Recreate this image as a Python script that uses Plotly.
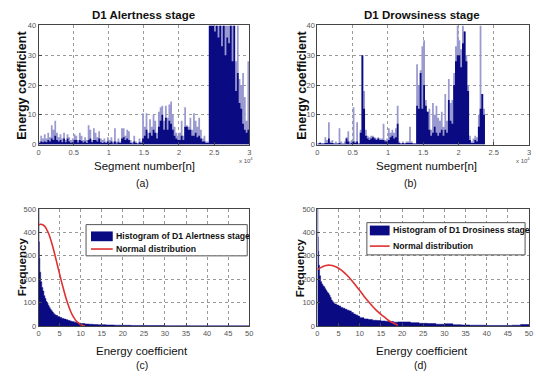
import plotly.graph_objects as go

W, H = 536, 378

# ---------------- data ----------------
SEG_BIN = 250  # segments per bin
seg_tickvals = [0, 5000, 10000, 15000, 20000, 25000, 30000]
seg_ticktext = ["0", "0.5", "1", "1.5", "2", "2.5", "3"]
energy_ticks = [0, 10, 20, 30, 40]
hist_xticks = [0, 5, 10, 15, 20, 25, 30, 35, 40, 45, 50]
hist_yticks = [0, 100, 200, 300, 400, 500]

# Panel (a) D1 Alertness stage: peak (light) and body (dark) energy per bin
alert_peak = [
    1, 3, 2, 3.5,   2, 4, 2.5, 6.5,   5, 8, 4, 2.5,   3.5, 2, 4, 1.5,
    3.5, 2.5, 1.5, 2,   3.5, 3, 1.5, 4,   3, 1.5, 2.5, 1.5,   6.5, 5, 1.5, 5.5,
    4, 2.5, 4.5, 2,   1.5, 2, 1, 2.5,   1.5, 2.5, 1, 5.5,   1, 2, 1, 5.5,
    5.5, 3, 5, 4.5,   1.5, 0.8, 3, 1,   0.5, 2, 1, 10.5,   6, 10.5, 4, 8.5,
    6, 10, 8, 4,   11, 12.5, 13, 8,   13, 9, 13.5, 14.5,   10, 6, 4, 3,
    4, 8, 3, 12.5,   6.5, 6, 9, 5,   10.5, 8, 6, 9,   5, 2, 3, 1,
    1, 40, 40, 40,   40, 40, 40, 40,   40, 40, 40, 40,   40, 40, 40, 40,
    28, 40, 22, 20,   24, 16, 8, 28,
]
alert_body = [
    0.5, 1, 0.8, 1,   0.8, 1.5, 1, 2,   1.5, 3, 1.5, 1,   1.5, 0.8, 2, 0.8,
    2, 1, 0.6, 0.8,   1.5, 1.5, 0.7, 1.5,   1.2, 0.7, 1, 0.5,   1.5, 2, 0.8, 1.5,
    1.5, 1, 2, 0.8,   0.5, 0.8, 0.5, 1,   0.6, 1, 0.4, 1,   0.4, 0.8, 0.5, 2,
    2.5, 1.5, 2, 1.5,   0.6, 0.4, 1, 0.5,   0.3, 0.8, 0.5, 2,   3, 5, 2, 4,
    3, 5, 4, 2,   6, 8, 10, 5,   9, 5, 8, 7,   5, 3, 2, 1.5,
    1.5, 3, 1.5, 6,   6, 5, 5, 3,   3, 4, 2.5, 3,   2, 1, 1, 0.5,
    0.5, 40, 40, 40,   38, 40, 36, 40,   33, 40, 30, 36,   34, 40, 28, 40,
    18, 24, 14, 12,   7, 5, 4, 5,
]

# Panel (b) D1 Drowsiness stage
drowsy_peak = [
    0.5, 0.8, 0.5, 0.5,   2.5, 1.5, 7.5, 1,   1.5, 0.5, 1, 0.5,   5.5, 1, 0.5, 1,
    2.5, 4.5, 1, 1.5,   12.5, 1, 7.5, 0.5,   5, 30, 18, 5,   3, 2.5, 3, 3,
    2.5, 2, 2.5, 2,   2, 7, 1.5, 2,   5.5, 4, 5, 4,   5.5, 13, 1, 0.5,
    1, 0.5, 1, 1,   6, 1, 0.5, 0.5,   27, 20, 25, 33,   35, 15, 11, 12,
    5, 14, 10, 13,   9, 8, 11, 6,   17, 8, 22, 14,   15, 24, 33, 40,
    35, 32, 40, 38,   30, 20, 3, 1,   2, 3, 2.5, 10,   40, 17, 12, 0,
    0, 0, 0, 0,   0, 0, 0, 0,   0, 0, 0, 0,   0, 0, 0, 0,
    0, 0, 0, 0,   0, 0, 0, 0,
]
drowsy_body = [
    0.3, 0.5, 0.3, 0.3,   0.5, 0.5, 2, 0.5,   0.5, 0.3, 0.3, 0.3,   0.5, 0.3, 0.2, 0.3,
    2, 1, 0.3, 0.5,   1, 0.5, 1, 0.3,   4, 30, 12, 3,   2, 1.5, 2, 2.5,
    2, 1.5, 2, 1.5,   1.5, 1.5, 1, 1,   1.5, 2.5, 3, 2,   2.5, 7, 0.5, 0.3,
    0.5, 0.3, 0.5, 0.5,   0.5, 0.5, 0.3, 0.3,   13, 12, 24, 12,   20, 13, 11, 5,
    3, 4, 6, 4,   3, 4, 5, 3,   5, 4, 15, 8,   7, 20, 28, 30,
    30, 26, 34, 38,   28, 18, 1.5, 0.5,   0.5, 1.5, 1, 6,   12, 17, 10, 0,
    0, 0, 0, 0,   0, 0, 0, 0,   0, 0, 0, 0,   0, 0, 0, 0,
    0, 0, 0, 0,   0, 0, 0, 0,
]

# Histograms: bin edges and counts
hist_edges = [0, 0.1, 0.2, 0.3, 0.5, 0.75, 1, 1.25, 1.5, 1.75, 2, 2.25, 2.5, 2.75, 3,
              3.25, 3.5, 3.75, 4, 4.5, 5, 5.5, 6, 6.5, 7, 7.5, 8, 8.5, 9, 9.5, 10,
              11, 12, 13, 14, 15, 16, 17, 18, 19, 20, 22, 24, 26, 28, 30, 32, 34,
              36, 38, 40, 42, 44, 46, 48, 50]
hist_alert = [500, 360, 290, 230, 190, 165, 150, 130, 118, 105, 98, 88, 80, 72, 66,
              60, 54, 50, 46, 41, 37, 33, 30, 27, 24, 21, 19, 17, 15, 13,
              11, 9, 8, 7, 6, 6, 5, 5, 4, 4, 3.5, 3, 3, 2.5, 2.5, 2, 2, 2,
              1.5, 1.5, 1.5, 1.5, 1.5, 1.5, 1.5]
hist_drowsy = [500, 380, 320, 260, 215, 190, 180, 172, 168, 160, 152, 145, 140, 132, 122,
               112, 105, 100, 95, 90, 86, 80, 76, 72, 68, 65, 58, 52, 48, 43,
               36, 31, 28, 25, 24, 22, 21, 20, 17, 18, 18, 15, 12, 11, 8, 10, 6, 5,
               4, 4, 3, 3, 3, 4, 7]

# Fitted normal distribution curves
norm_alert_x = [0, 0.5, 1, 1.5, 2, 2.5, 3, 3.5, 4, 4.5, 5, 5.5, 6, 6.5, 7, 7.5, 8, 8.5,
                9, 9.5, 10, 10.5, 11]
norm_alert_y = [432, 435, 433, 425, 410, 390, 362, 330, 295, 258, 222, 186, 152, 120,
                92, 68, 48, 33, 21, 13, 7, 3, 1]
norm_drowsy_x = [0, 1, 2, 3, 4, 5, 6, 7, 8, 9, 10, 11, 12, 13, 14, 15, 16, 17, 18, 19]
norm_drowsy_y = [242, 252, 259, 260, 256, 247, 234, 217, 197, 175, 152, 128, 106, 85,
                 66, 50, 36, 22, 12, 4]

titles = ["D1 Alertness stage", "D1 Drowsiness stage"]
legend_hist = ["Histogram of D1 Alertness stage", "Histogram of D1 Drosiness stage"]
legend_norm = "Normal distribution"
panel_labels = ["(a)", "(b)", "(c)", "(d)"]

# ---------------- style ----------------
NAVY = "#0a0a82"
LIGHT = "#9a9ad0"
RED = "#e03030"
FONT = "Liberation Sans, Arial"


def step_xy(edges, vals):
    return list(edges), list(vals) + [vals[-1]]


seg_edges = [i * SEG_BIN for i in range(len(alert_peak) + 1)]

fig = go.Figure()

# panel a
for vals, col in ((alert_peak, LIGHT), (alert_body, NAVY)):
    xs, ys = step_xy(seg_edges, vals)
    fig.add_trace(go.Scatter(x=xs, y=ys, mode="lines", line=dict(width=0, shape="hv"),
                             fill="tozeroy", fillcolor=col, xaxis="x", yaxis="y",
                             showlegend=False, hoverinfo="skip"))
# panel b
for vals, col in ((drowsy_peak, LIGHT), (drowsy_body, NAVY)):
    xs, ys = step_xy(seg_edges, vals)
    fig.add_trace(go.Scatter(x=xs, y=ys, mode="lines", line=dict(width=0, shape="hv"),
                             fill="tozeroy", fillcolor=col, xaxis="x2", yaxis="y2",
                             showlegend=False, hoverinfo="skip"))
# panel c
xs, ys = step_xy(hist_edges, hist_alert)
fig.add_trace(go.Scatter(x=xs, y=ys, mode="lines", line=dict(width=0.5, color=NAVY, shape="hv"),
                         fill="tozeroy", fillcolor=NAVY, xaxis="x3", yaxis="y3",
                         name=legend_hist[0], showlegend=False))
fig.add_trace(go.Scatter(x=norm_alert_x, y=norm_alert_y, mode="lines",
                         line=dict(color=RED, width=1.6, shape="spline"),
                         xaxis="x3", yaxis="y3", name=legend_norm, showlegend=False))
# panel d
xs, ys = step_xy(hist_edges, hist_drowsy)
fig.add_trace(go.Scatter(x=xs, y=ys, mode="lines", line=dict(width=0.5, color=NAVY, shape="hv"),
                         fill="tozeroy", fillcolor=NAVY, xaxis="x4", yaxis="y4",
                         name=legend_hist[1], showlegend=False))
fig.add_trace(go.Scatter(x=norm_drowsy_x, y=norm_drowsy_y, mode="lines",
                         line=dict(color=RED, width=1.6, shape="spline"),
                         xaxis="x4", yaxis="y4", name=legend_norm, showlegend=False))


def px2x(p):
    return p / W


def px2y(p):
    return 1 - p / H


axis_common = dict(showline=True, mirror=True, linecolor="#444", linewidth=1,
                   ticks="inside", ticklen=3, tickcolor="#444",
                   showgrid=True, gridcolor="#9a9a9a", griddash="dot", gridwidth=1,
                   zeroline=False, tickfont=dict(family=FONT, size=7.5, color="#555"))

dom_x_left = [px2x(37), px2x(250)]
dom_x_right = [px2x(319), px2x(533)]
dom_y_top = [px2y(144), px2y(22)]
dom_y_bot = [px2y(330), px2y(210)]

fig.update_layout(
    width=W, height=H, margin=dict(l=0, r=0, t=0, b=0),
    paper_bgcolor="white", plot_bgcolor="white",
    font=dict(family=FONT, color="#111"),
    xaxis=dict(domain=dom_x_left, anchor="y", range=[0, 30000], tickvals=seg_tickvals,
               ticktext=seg_ticktext, **axis_common),
    yaxis=dict(domain=dom_y_top, anchor="x", range=[0, 40], tickvals=energy_ticks, **axis_common),
    xaxis2=dict(domain=dom_x_right, anchor="y2", range=[0, 30000], tickvals=seg_tickvals,
                ticktext=seg_ticktext, **axis_common),
    yaxis2=dict(domain=dom_y_top, anchor="x2", range=[0, 40], tickvals=energy_ticks, **axis_common),
    xaxis3=dict(domain=dom_x_left, anchor="y3", range=[0, 50], tickvals=hist_xticks, **axis_common),
    yaxis3=dict(domain=dom_y_bot, anchor="x3", range=[0, 500], tickvals=hist_yticks, **axis_common),
    xaxis4=dict(domain=dom_x_right, anchor="y4", range=[0, 50], tickvals=hist_xticks, **axis_common),
    yaxis4=dict(domain=dom_y_bot, anchor="x4", range=[0, 500], tickvals=hist_yticks, **axis_common),
)

ann = []


def text(x, y, s, size, bold=False, angle=0, xanchor="center", color="#111"):
    ann.append(dict(x=px2x(x), y=px2y(y), xref="paper", yref="paper", text=(f"<b>{s}</b>" if bold else s),
                    showarrow=False, font=dict(family=FONT, size=size, color=color),
                    textangle=angle, xanchor=xanchor, yanchor="middle"))


# titles
text(143, 11, titles[0], 11.5, bold=True)
text(425, 11, titles[1], 11.5, bold=True)
# y labels
text(20, 83, "Energy coefficient", 12.5, bold=True, angle=-90)
text(303, 83, "Energy coefficient", 12.5, bold=True, angle=-90)
text(20, 269, "Frequency", 11.5, bold=True, angle=-90)
text(301, 270, "Frequency", 11.5, bold=True, angle=-90)
# x labels
text(144, 166, "Segment number[n]", 11.5)
text(429, 166, "Segment number[n]", 11.5)
text(142, 355, "Energy coefficient", 11.5)
text(425, 355, "Energy coefficient", 11.5)
# panel labels
text(142, 183, panel_labels[0], 10.5)
text(413, 183, panel_labels[1], 10.5)
text(142, 370, panel_labels[2], 10.5)
text(423, 370, panel_labels[3], 10.5)
# x 10^4 exponent
text(247, 160, "x 10<sup>4</sup>", 6, color="#555")
text(527, 160, "x 10<sup>4</sup>", 6, color="#555")

# manual legends
shapes = []


def legend(box, icon_rect, line_y, text_x, row1_y, label1):
    x0, y0, x1, y1 = box
    shapes.append(dict(type="rect", xref="paper", yref="paper", x0=px2x(x0), x1=px2x(x1),
                       y0=px2y(y1), y1=px2y(y0), line=dict(color="#555", width=1), fillcolor="white"))
    ix0, iy0, ix1, iy1 = icon_rect
    shapes.append(dict(type="rect", xref="paper", yref="paper", x0=px2x(ix0), x1=px2x(ix1),
                       y0=px2y(iy1), y1=px2y(iy0), line=dict(width=0), fillcolor=NAVY))
    shapes.append(dict(type="line", xref="paper", yref="paper", x0=px2x(ix0), x1=px2x(ix1),
                       y0=px2y(line_y), y1=px2y(line_y), line=dict(color=RED, width=1.6)))
    text(text_x, row1_y, label1, 8.7, bold=True, xanchor="left")
    text(text_x, line_y, legend_norm, 8.7, bold=True, xanchor="left")


legend((85, 226, 248, 258), (90, 233, 112, 243), 251, 113, 238, legend_hist[0])
legend((369, 224, 529, 257), (372, 227, 392, 237), 248, 393, 232, legend_hist[1])

fig.update_layout(annotations=ann, shapes=shapes)

fig.write_html("out.html", config={"displayModeBar": False},
               post_script="document.body.style.margin='0';document.body.style.padding='0';")
